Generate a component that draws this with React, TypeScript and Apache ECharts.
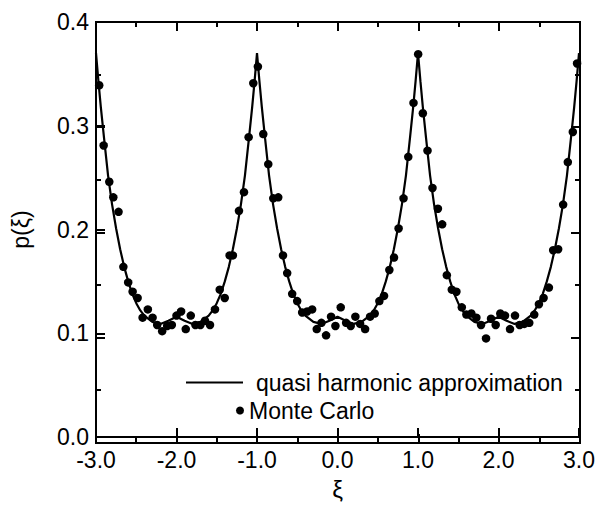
import React, { useEffect, useRef } from "react";
import * as echarts from "echarts";

const curveXi = [
  -3.0, -2.97, -2.94, -2.9, -2.85, -2.8, -2.75, -2.7, -2.65, -2.6, -2.55, -2.5, -2.45, -2.4, -2.3, -2.2, -2.1, -2.0,
  -1.9, -1.8, -1.7, -1.6, -1.55, -1.5, -1.45, -1.4, -1.35, -1.3, -1.25, -1.2, -1.15, -1.1, -1.06, -1.03, -1.0,
  -0.97, -0.94, -0.9, -0.85, -0.8, -0.75, -0.7, -0.65, -0.6, -0.55, -0.5, -0.45, -0.4, -0.3, -0.2, -0.1, 0.0,
  0.1, 0.2, 0.3, 0.4, 0.45, 0.5, 0.55, 0.6, 0.65, 0.7, 0.75, 0.8, 0.85, 0.9, 0.94, 0.97, 1.0,
  1.03, 1.06, 1.1, 1.15, 1.2, 1.25, 1.3, 1.35, 1.4, 1.45, 1.5, 1.55, 1.6, 1.7, 1.8, 1.9, 2.0,
  2.1, 2.2, 2.3, 2.4, 2.45, 2.5, 2.55, 2.6, 2.65, 2.7, 2.75, 2.8, 2.85, 2.9, 2.94, 2.97, 3.0,
];
const curveP = [
  0.370, 0.343, 0.318, 0.288, 0.252, 0.224, 0.201, 0.181, 0.164, 0.150, 0.138, 0.129, 0.122, 0.117, 0.111, 0.109, 0.112, 0.116,
  0.112, 0.109, 0.111, 0.117, 0.122, 0.129, 0.138, 0.150, 0.164, 0.181, 0.201, 0.224, 0.252, 0.288, 0.318, 0.343, 0.370,
  0.343, 0.318, 0.288, 0.252, 0.224, 0.201, 0.181, 0.164, 0.150, 0.138, 0.129, 0.122, 0.117, 0.111, 0.109, 0.112, 0.116,
  0.112, 0.109, 0.111, 0.117, 0.122, 0.129, 0.138, 0.150, 0.164, 0.181, 0.201, 0.224, 0.252, 0.288, 0.318, 0.343, 0.370,
  0.343, 0.318, 0.288, 0.252, 0.224, 0.201, 0.181, 0.164, 0.150, 0.138, 0.129, 0.122, 0.117, 0.111, 0.109, 0.112, 0.116,
  0.112, 0.109, 0.111, 0.117, 0.122, 0.129, 0.138, 0.150, 0.164, 0.181, 0.201, 0.224, 0.252, 0.288, 0.318, 0.343, 0.370,
];

const mcXi = [
  -2.96, -2.905, -2.835, -2.785, -2.72, -2.66, -2.6, -2.545, -2.483, -2.421, -2.356, -2.297, -2.24, -2.178, -2.116, -2.058,
  -2.0, -1.943, -1.885, -1.823, -1.765, -1.703, -1.646, -1.584, -1.522, -1.463, -1.401, -1.34, -1.3, -1.224, -1.162, -1.104,
  -1.046, -0.989, -0.922, -0.86, -0.798, -0.736, -0.677, -0.625, -0.563, -0.501, -0.439, -0.377, -0.315, -0.258, -0.2, -0.142,
  -0.08, -0.026, 0.04, 0.107, 0.164, 0.222, 0.281, 0.343, 0.405, 0.462, 0.52, 0.578, 0.644, 0.702, 0.759, 0.82,
  0.879, 0.944, 1.002, 1.06, 1.118, 1.18, 1.247, 1.3, 1.358, 1.42, 1.477, 1.544, 1.601, 1.663, 1.725, 1.783,
  1.845, 1.907, 1.965, 2.022, 2.081, 2.143, 2.205, 2.263, 2.32, 2.382, 2.444, 2.502, 2.56, 2.626, 2.679, 2.741,
  2.803, 2.861, 2.923, 2.976,
];
const mcP = [
  0.339, 0.281, 0.246, 0.231, 0.217, 0.164, 0.149, 0.140, 0.134, 0.115, 0.123, 0.115, 0.108, 0.102, 0.107, 0.108,
  0.117, 0.121, 0.104, 0.117, 0.108, 0.108, 0.112, 0.108, 0.123, 0.142, 0.134, 0.175, 0.175, 0.218, 0.236, 0.289,
  0.341, 0.357, 0.292, 0.263, 0.230, 0.231, 0.175, 0.158, 0.138, 0.131, 0.120, 0.121, 0.123, 0.104, 0.110, 0.098,
  0.116, 0.107, 0.125, 0.110, 0.107, 0.116, 0.109, 0.104, 0.116, 0.119, 0.131, 0.136, 0.161, 0.173, 0.201, 0.230,
  0.270, 0.322, 0.369, 0.312, 0.276, 0.240, 0.220, 0.205, 0.156, 0.142, 0.140, 0.125, 0.118, 0.119, 0.115, 0.108,
  0.095, 0.114, 0.108, 0.119, 0.117, 0.104, 0.117, 0.108, 0.109, 0.110, 0.118, 0.128, 0.134, 0.144, 0.180, 0.181,
  0.224, 0.265, 0.294, 0.360,
];

// Axis ranges and tick positions
const xRange = [-3, 3];
const yRange = [0, 0.4];
const xMajorTicks = [-3, -2, -1, 0, 1, 2, 3];
const xMinorTicks = [-2.5, -1.5, -0.5, 0.5, 1.5, 2.5];
const yMajorTicks = [0, 0.1, 0.2, 0.3, 0.4];
const yMinorTicks = [0.05, 0.15, 0.25, 0.35];

const seriesNames = ["quasi harmonic approximation", "Monte Carlo"];
const xAxisName = "ξ";
const yAxisName = "p(ξ)";

const W = 598;
const H = 506;
const GRID = { left: 96, right: 18, top: 22, bottom: 63 };

export default function App() {
  const ref = useRef<HTMLDivElement>(null);
  useEffect(() => {
    if (!ref.current) return;
    const chart = echarts.init(ref.current, null, { renderer: "svg" });
    const font = "'Liberation Sans', Arial, Helvetica, sans-serif";
    const fmt = (v: number) => v.toFixed(1);

    // Frame and inward ticks: pixel positions follow the grid's linear value scale
    const plotW = W - GRID.left - GRID.right;
    const plotH = H - GRID.top - GRID.bottom;
    const sx = (x: number) => GRID.left + ((x - xRange[0]) / (xRange[1] - xRange[0])) * plotW;
    const sy = (y: number) => GRID.top + ((yRange[1] - y) / (yRange[1] - yRange[0])) * plotH;
    const fx0 = sx(xRange[0]);
    const fx1 = sx(xRange[1]);
    const fy0 = sy(yRange[0]);
    const fy1 = sy(yRange[1]);
    const lw = 2;
    const bar = (l: number, t: number, w: number, h: number) => ({
      type: "rect",
      left: Math.round(l),
      top: Math.round(t),
      shape: { width: Math.round(w), height: Math.round(h) },
      style: { fill: "#000000" },
      silent: true,
      z: 50,
    });
    const els: any[] = [
      bar(fx0 - 1, fy0 - 1, fx1 - fx0 + lw, lw),
      bar(fx0 - 1, fy1 - 1, fx1 - fx0 + lw, lw),
      bar(fx0 - 1, fy1 - 1, lw, fy0 - fy1 + lw),
      bar(fx1 - 1, fy1 - 1, lw, fy0 - fy1 + lw),
    ];
    const addX = (v: number, len: number) => {
      const x = sx(v);
      els.push(bar(x - 1, fy0 - len, lw, len));
      els.push(bar(x - 1, fy1, lw, len));
    };
    const addY = (v: number, len: number) => {
      const y = sy(v);
      els.push(bar(fx0, y - 1, len, lw));
      els.push(bar(fx1 - len, y - 1, len, lw));
    };
    xMajorTicks.forEach((v) => addX(v, 9));
    xMinorTicks.forEach((v) => addX(v, 5));
    yMajorTicks.forEach((v) => addY(v, 9));
    yMinorTicks.forEach((v) => addY(v, 5));

    chart.setOption({
      animation: false,
      backgroundColor: "#ffffff",
      textStyle: { fontFamily: font },
      grid: { ...GRID, containLabel: false },
      legend: [
        {
          left: 181,
          top: 366,
          orient: "vertical",
          itemWidth: 57,
          itemHeight: 2,
          selectedMode: false,
          textStyle: { fontSize: 23, color: "#000", fontFamily: font, padding: [0, 0, 0, 8] },
          data: [{ name: seriesNames[0], icon: "rect", itemStyle: { color: "#000" } }],
        },
        {
          left: 231,
          top: 394,
          orient: "vertical",
          itemWidth: 8,
          itemHeight: 8,
          selectedMode: false,
          textStyle: { fontSize: 23, color: "#000", fontFamily: font },
          data: [{ name: seriesNames[1], icon: "circle", itemStyle: { color: "#000", opacity: 1 } }],
        },
      ],
      xAxis: {
        type: "value",
        min: xRange[0],
        max: xRange[1],
        interval: 1,
        position: "bottom",
        name: xAxisName,
        nameLocation: "middle",
        nameGap: 40,
        nameTextStyle: { fontSize: 24, color: "#000", fontFamily: font },
        axisLabel: { formatter: fmt, fontSize: 23, color: "#000", margin: 11, fontFamily: font },
        axisLine: { show: true, onZero: false, lineStyle: { color: "#000", width: 2 } },
        axisTick: { show: true, inside: true, length: 9, lineStyle: { color: "#000", width: 2 } },
        splitLine: { show: false },
      },
      yAxis: {
        type: "value",
        min: yRange[0],
        max: yRange[1],
        interval: 0.1,
        position: "left",
        name: yAxisName,
        nameLocation: "middle",
        nameGap: 64,
        nameRotate: 90,
        nameTextStyle: { fontSize: 23, color: "#000", fontFamily: font },
        axisLabel: { formatter: fmt, fontSize: 23, color: "#000", margin: 7, fontFamily: font },
        axisLine: { show: true, onZero: false, lineStyle: { color: "#000", width: 2 } },
        axisTick: { show: true, inside: true, length: 9, lineStyle: { color: "#000", width: 2 } },
        splitLine: { show: false },
      },
      graphic: els,
      series: [
        {
          name: seriesNames[0],
          type: "line",
          data: curveXi.map((x, i) => [x, curveP[i]]),
          showSymbol: false,
          symbol: "none",
          lineStyle: { color: "#000", width: 2.2 },
          itemStyle: { color: "#000" },
          z: 2,
        },
        {
          name: seriesNames[1],
          type: "scatter",
          data: mcXi.map((x, i) => [x, mcP[i]]),
          symbol: "circle",
          symbolSize: 8.5,
          itemStyle: { color: "#000", opacity: 1 },
          z: 3,
        },
      ],
    });

    return () => chart.dispose();
  }, []);
  return <div ref={ref} style={{ position: "fixed", left: 0, top: 0, width: W, height: H }} />;
}
